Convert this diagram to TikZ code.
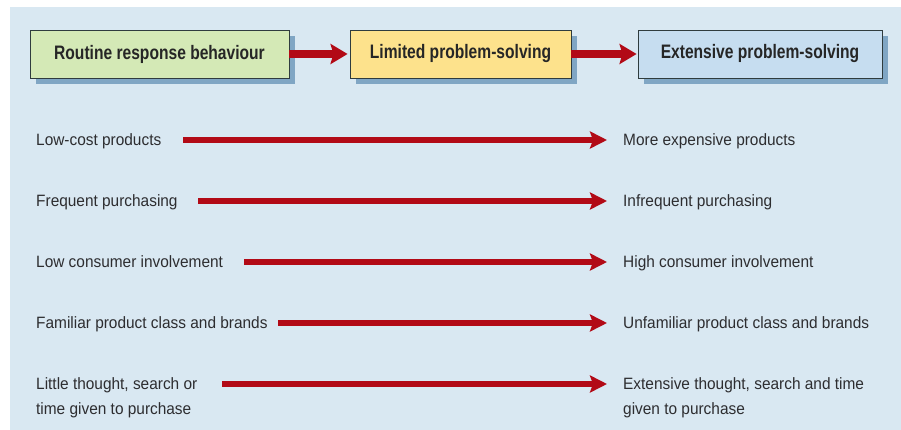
\documentclass[tikz,border=0pt]{standalone}
\usepackage{fontspec}
\setmainfont[FakeStretch=0.94]{Liberation Sans}
\newfontfamily\boxfont[FakeStretch=0.8]{Liberation Sans}
\usetikzlibrary{arrows.meta,shadows}
\definecolor{bgc}{RGB}{217,232,242}
\definecolor{greenc}{RGB}{212,233,182}
\definecolor{yellowc}{RGB}{253,226,140}
\definecolor{bluec}{RGB}{198,221,240}
\definecolor{shadowc}{RGB}{128,166,196}
\definecolor{borderc}{RGB}{47,60,62}
\definecolor{arrowc}{RGB}{178,10,22}
\definecolor{txtc}{RGB}{45,45,48}
\tikzset{
  stagebox/.style={draw=borderc, line width=0.9pt, minimum height=48pt, inner sep=0pt,
    font=\boxfont\bfseries\fontsize{19.5}{22}\selectfont, text=black!85,
    general shadow={fill=shadowc, shadow xshift=6pt, shadow yshift=-6pt}},
  bigarrow/.style={draw=arrowc, line width=8pt, -{Stealth[length=17pt,width=20pt,inset=3pt]}},
  rowarrow/.style={draw=arrowc, line width=6pt, -{Stealth[length=17pt,width=17pt,inset=3pt]}},
  lefttext/.style={anchor=base west, inner sep=0pt, text=txtc, font=\fontsize{16.4}{25}\selectfont, align=left},
  righttext/.style={anchor=base west, inner sep=0pt, text=txtc, font=\fontsize{16.4}{25}\selectfont, align=left},
}
\begin{document}
\begin{tikzpicture}[x=1pt,y=-1pt]
\fill[white] (0,0) rectangle (901,430);
\useasboundingbox (0,0) rectangle (901,430);
\fill[bgc] (10,7) rectangle (901,430);

\node[stagebox, fill=greenc, minimum width=259pt] (b1) at (159.5,54) {Routine response behaviour};
\node[stagebox, fill=yellowc, minimum width=221pt] (b2) at (460.5,54) {Limited problem-solving};
\node[stagebox, fill=bluec, minimum width=244pt] (b3) at (760,54) {Extensive problem-solving};
\draw[bigarrow, shorten >=2pt] (b1.east) -- (b2.west);
\draw[bigarrow, shorten >=1pt] (b2.east) -- (b3.west);

\node[lefttext] (l1) at (36,145.5) {Low-cost products};
\node[lefttext] (l2) at (36,206.5) {Frequent purchasing};
\node[lefttext] (l3) at (36,267.5) {Low consumer involvement};
\node[lefttext] (l4) at (36,328.5) {Familiar product class and brands};
\node[lefttext, anchor=north west] (l5) at (36,377) {Little thought, search or\\time given to purchase};

\node[righttext] (r1) at (623,145.5) {More expensive products};
\node[righttext] (r2) at (623,206.5) {Infrequent purchasing};
\node[righttext] (r3) at (623,267.5) {High consumer involvement};
\node[righttext] (r4) at (623,328.5) {Unfamiliar product class and brands};
\node[righttext, anchor=north west] (r5) at (623,377) {Extensive thought, search and time\\given to purchase};

\coordinate (a1) at (183,140);
\coordinate (a2) at (198,201);
\coordinate (a3) at (244,262);
\coordinate (a4) at (278,323);
\coordinate (a5) at (222,384);
\foreach \i in {1,...,5}{
  \draw[rowarrow, shorten >=16pt] (a\i) -- (a\i -| r\i.west);
}
\end{tikzpicture}
\end{document}
